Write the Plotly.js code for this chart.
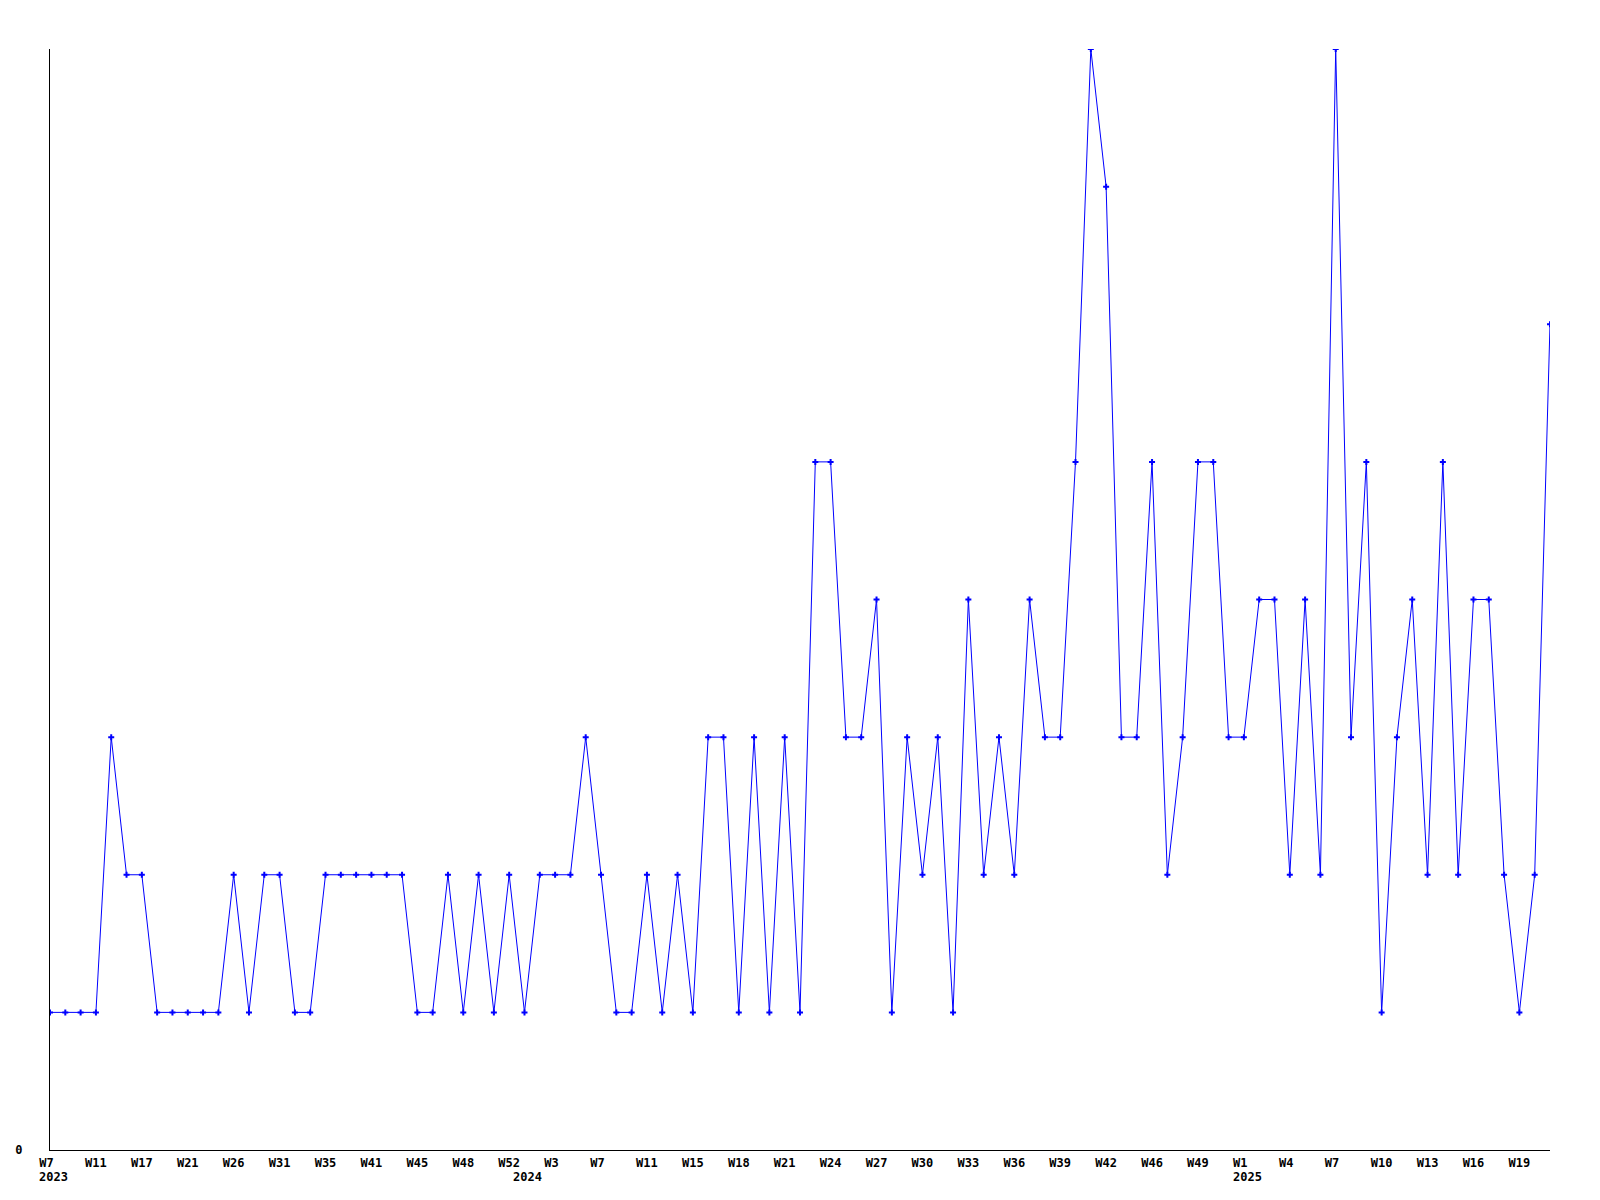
<!DOCTYPE html>
<html>
<head>
<meta charset="utf-8">
<script src="https://cdn.plot.ly/plotly-3.0.1.min.js"></script>
<style>html,body{margin:0;padding:0;background:#fff;}#chart{width:1600px;height:1200px;}</style>
</head>
<body>
<div id="chart"></div>
<script>
// Week categories (one per data point; weeks with no value are absent)
const weeks = [
  "2023-W7","2023-W8","2023-W10","2023-W11","2023-W13","2023-W15","2023-W17","2023-W18","2023-W20","2023-W21",
  "2023-W23","2023-W24","2023-W26","2023-W28","2023-W29","2023-W31","2023-W32","2023-W34","2023-W35","2023-W37",
  "2023-W39","2023-W41","2023-W42","2023-W44","2023-W45","2023-W46","2023-W47","2023-W48","2023-W50","2023-W51",
  "2023-W52","2024-W1","2024-W2","2024-W3","2024-W5","2024-W6","2024-W7","2024-W9","2024-W10","2024-W11",
  "2024-W13","2024-W14","2024-W15","2024-W16","2024-W17","2024-W18","2024-W19","2024-W20","2024-W21","2024-W22",
  "2024-W23","2024-W24","2024-W25","2024-W26","2024-W27","2024-W28","2024-W29","2024-W30","2024-W31","2024-W32",
  "2024-W33","2024-W34","2024-W35","2024-W36","2024-W37","2024-W38","2024-W39","2024-W40","2024-W41","2024-W42",
  "2024-W43","2024-W45","2024-W46","2024-W47","2024-W48","2024-W49","2024-W50","2024-W52","2025-W1","2025-W2",
  "2025-W3","2025-W4","2025-W5","2025-W6","2025-W7","2025-W8","2025-W9","2025-W10","2025-W11","2025-W12",
  "2025-W13","2025-W14","2025-W15","2025-W16","2025-W17","2025-W18","2025-W19","2025-W20","2025-W21"
];

// Values per week
const values = [
  1,1,1,1,3,2,2,1,1,1,
  1,1,2,1,2,2,1,1,2,2,
  2,2,2,2,1,1,2,1,2,1,
  2,1,2,2,2,3,2,1,1,2,
  1,2,1,3,3,1,3,1,3,1,
  5,5,3,3,4,1,3,2,3,1,
  4,2,3,2,4,3,3,5,8,7,
  3,3,5,2,3,5,5,3,3,4,
  4,2,4,2,8,3,5,1,3,4,
  2,5,2,4,4,2,1,2,6
];

// Y tick labels
const yTickVals = [0];
const yTickText = ["0"];

// A week label is shown on every third point; the year is shown under its first point
const labelEvery = 3;

const NB = "\u00a0";
const tickvals = [], ticktext = [], yearAnnotations = [];
let prevYear = null;
weeks.forEach((w, i) => {
  const [yr, wk] = w.split("-");
  if (yr !== prevYear) {
    yearAnnotations.push({
      x: w, xref: "x", y: 0, yref: "paper",
      xanchor: "left", yanchor: "top",
      xshift: -12, yshift: -19,
      text: yr, showarrow: false, borderpad: 0,
      font: {family: "DejaVu Sans Mono, monospace", size: 12, color: "#000", weight: "bold"}
    });
  }
  prevYear = yr;
  if (i % labelEvery !== 0) return;
  let wkTxt = wk;
  while (wkTxt.length < 3) wkTxt += NB;
  tickvals.push(w);
  ticktext.push(wkTxt);
});

const font = {family: "DejaVu Sans Mono, monospace", size: 12, color: "#000", weight: "bold"};

const trace = {
  x: weeks,
  y: values,
  type: "scatter",
  mode: "lines+markers",
  line: {color: "#0000ff", width: 1},
  marker: {color: "#0000ff", symbol: "cross", size: 5},
  hoverinfo: "skip"
};

const layout = {
  width: 1600,
  height: 1200,
  margin: {l: 50, r: 50, t: 49, b: 50, pad: 0},
  paper_bgcolor: "#fff",
  plot_bgcolor: "#fff",
  showlegend: false,
  font: font,
  annotations: yearAnnotations,
  xaxis: {
    type: "category",
    range: [0, weeks.length - 1],
    autorange: false,
    showline: true,
    linecolor: "#000",
    linewidth: 1,
    showgrid: false,
    zeroline: false,
    ticks: "",
    tickmode: "array",
    tickvals: tickvals,
    ticktext: ticktext,
    tickangle: 0,
    tickfont: font,
    ticklabelstandoff: 2
  },
  yaxis: {
    range: [0, 8],
    autorange: false,
    showline: true,
    linecolor: "#000",
    linewidth: 1,
    showgrid: false,
    zeroline: false,
    ticks: "",
    tickmode: "array",
    tickvals: yTickVals,
    ticktext: yTickText,
    tickfont: font,
    ticklabelstandoff: 24
  }
};

Plotly.newPlot("chart", [trace], layout, {staticPlot: true, displayModeBar: false});
</script>
</body>
</html>
